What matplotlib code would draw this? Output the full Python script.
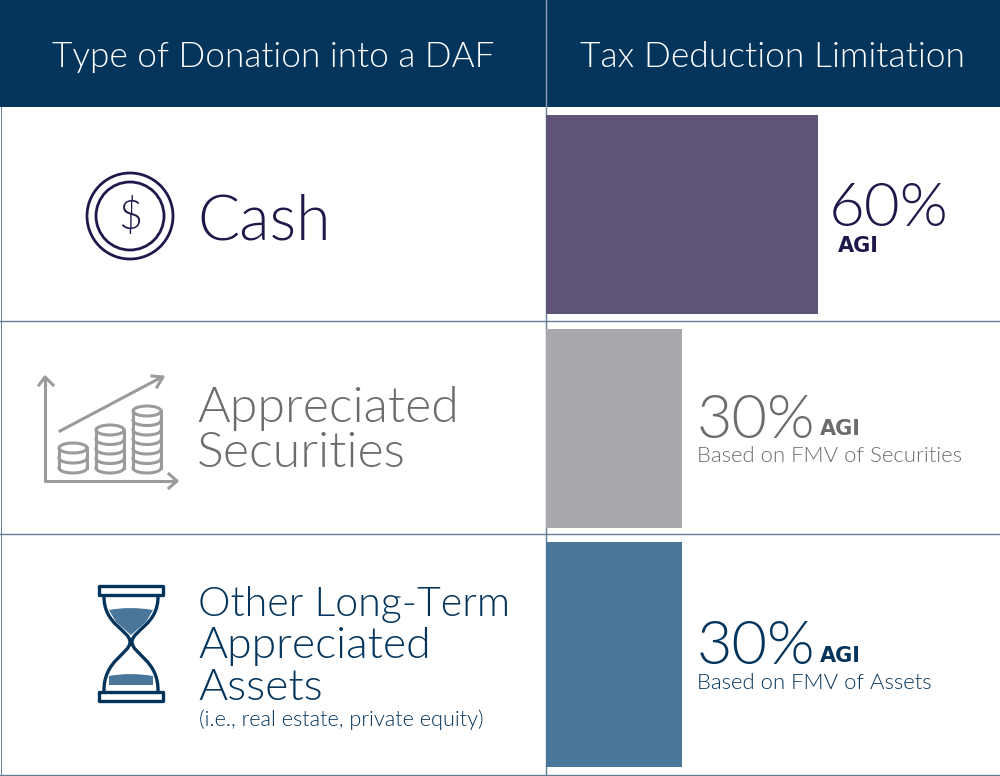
import matplotlib
matplotlib.use("Agg")
import matplotlib.pyplot as plt
from matplotlib.patches import Rectangle, Circle, Ellipse, PathPatch
from matplotlib.path import Path
import numpy as np

plt.rcParams['font.family'] = ['Lato', 'Open Sans', 'DejaVu Sans']
LT = 300

headers = ["Type of Donation into a DAF", "Tax Deduction Limitation"]
categories = ["Cash", "Appreciated\nSecurities", "Other Long-Term\nAppreciated\nAssets"]
limits = [60, 30, 30]
bar_colors = ["#5f5478", "#a9a8ad", "#4a7699"]
limit_labels = ["60%", "30%", "30%"]
notes = ["", "Based on FMV of Securities", "Based on FMV of Assets"]
NAVY = "#03345b"
INK = "#1d1a4b"
GREY = "#6c6c6e"
LINE = "#5f7f96"
AGI = dict(fontsize=15, va="center", fontweight="bold", family="DejaVu Sans")

W, H = 1000, 776
fig = plt.figure(figsize=(W/100, H/100), dpi=100, facecolor="white")
ax = fig.add_axes([0, 0, 1, 1])
ax.set_xlim(0, W); ax.set_ylim(H, 0); ax.axis("off")

ax.add_patch(Rectangle((0, 0), W, 107, color=NAVY, lw=0))
for y in (321, 534, 775):
    ax.plot([0, W], [y, y], color=LINE, lw=1.0)
ax.plot([546, 546], [0, 107], color="#8aa0b2", lw=1.0, zorder=5)
ax.plot([546, 546], [107, H], color=LINE, lw=1.0)
ax.plot([0.5, 0.5], [107, H], color=LINE, lw=0.7)
ax.plot([999.5, 999.5], [107, H], color=LINE, lw=0.7)

ax.text(273, 57, headers[0], color="white", fontsize=25.3, ha="center", va="center", fontweight=LT)
ax.text(773, 57, headers[1], color="white", fontsize=25.5, ha="center", va="center", fontweight=LT)

bax = fig.add_axes([546/W, 0, (W-546)/W, 1])
bax.set_xlim(0, (W-546)/(272/60)); bax.set_ylim(H, 0); bax.axis("off"); bax.patch.set_alpha(0)
tops = [115, 329, 542]
bots = [314, 528, 767]
for v, c, t, b in zip(limits, bar_colors, tops, bots):
    bax.barh((t+b)/2, v, height=b-t, color=c, left=0, linewidth=0)

ax.text(197, 222, categories[0], color=INK, fontsize=45, va="center", fontweight=LT)
ax.text(197, 431, categories[1], color=GREY, fontsize=36, va="center", linespacing=1.0, fontweight=LT)
third = categories[2].split("\n")
for line, base, size in zip(third, (616, 658, 700), (29.6, 32, 32)):
    ax.text(198, base, line, color=NAVY, fontsize=size, va="baseline", fontweight=LT)
ax.text(199, 720, "(i.e., real estate, private equity)", color=NAVY, fontsize=15.7, va="center", fontweight=LT)

ax.text(829, 209, limit_labels[0], color=INK, fontsize=44.5, va="center", fontweight=LT)
ax.text(838, 246, "AGI", color=INK, **AGI)
ax.text(697, 421, limit_labels[1], color=GREY, fontsize=44, va="center", fontweight=LT)
ax.text(820, 429, "AGI", color=GREY, **AGI)
ax.text(697, 456, notes[1], color=GREY, fontsize=15.9, va="center", fontweight=LT)
ax.text(697, 648, limit_labels[2], color=NAVY, fontsize=44, va="center", fontweight=LT)
ax.text(820, 656, "AGI", color=NAVY, **AGI)
ax.text(697, 683, notes[2], color=NAVY, fontsize=15.9, va="center", fontweight=LT)

ax.add_patch(Circle((130, 216), 43, fill=False, ec=INK, lw=2.0))
ax.add_patch(Circle((130, 216), 34, fill=False, ec=INK, lw=2.0))
ax.text(130, 216, "$", color=INK, fontsize=30, ha="center", va="center", fontweight=LT)

G = "#9b9b9c"
glw = 2.2
ax.plot([45, 45, 176], [378, 481, 481], color=G, lw=glw, solid_joinstyle="round")
ax.plot([39, 45, 53], [385, 377, 385], color=G, lw=glw)
ax.plot([169, 177, 169], [474, 481, 488], color=G, lw=glw)
ax.plot([60, 162], [431, 377], color=G, lw=glw)
ax.plot([152, 163, 157], [376, 377, 387], color=G, lw=glw)
for cx, top, n in ((73, 448, 2), (110, 430, 4), (147, 411, 6)):
    rx, ry = 14, 5
    bot = 468
    ax.add_patch(Ellipse((cx, top), 2*rx, 2*ry, fill=False, ec=G, lw=glw))
    ax.plot([cx-rx, cx-rx], [top, bot], color=G, lw=glw)
    ax.plot([cx+rx, cx+rx], [top, bot], color=G, lw=glw)
    t = np.linspace(np.pi, 0, 30)
    for yy in np.linspace(top, bot, n+1)[1:]:
        ax.plot(cx+rx*np.cos(t), yy+ry*np.sin(t), color=G, lw=glw)

HB = "#4a7699"
for yy in (586, 692):
    ax.add_patch(Rectangle((99, yy), 64, 9, fill=False, ec=NAVY, lw=2.4, joinstyle="round"))
curve = [Path.MOVETO, Path.CURVE4, Path.CURVE4, Path.CURVE4, Path.CURVE4, Path.CURVE4, Path.CURVE4]
left = Path([(104, 595), (103, 625), (130, 630), (130, 642), (130, 654), (103, 660), (104, 692)], curve)
right = Path([(158, 595), (159, 625), (132, 630), (132, 642), (132, 654), (159, 660), (158, 692)], curve)
for p in (left, right):
    ax.add_patch(PathPatch(p, fill=False, ec=NAVY, lw=2.4))
top_sand = Path([(109, 610), (130, 606), (153, 610), (146, 622), (131, 635), (116, 622), (109, 610)],
                [Path.MOVETO, Path.CURVE3, Path.CURVE3, Path.LINETO, Path.LINETO, Path.LINETO, Path.CLOSEPOLY])
ax.add_patch(PathPatch(top_sand, fc=HB, ec="none"))
bot_sand = Path([(109, 676), (130, 672), (153, 676), (153, 685), (109, 685), (109, 676)],
                [Path.MOVETO, Path.CURVE3, Path.CURVE3, Path.LINETO, Path.LINETO, Path.CLOSEPOLY])
ax.add_patch(PathPatch(bot_sand, fc=HB, ec="none"))

fig.savefig("out.png", dpi=100)
